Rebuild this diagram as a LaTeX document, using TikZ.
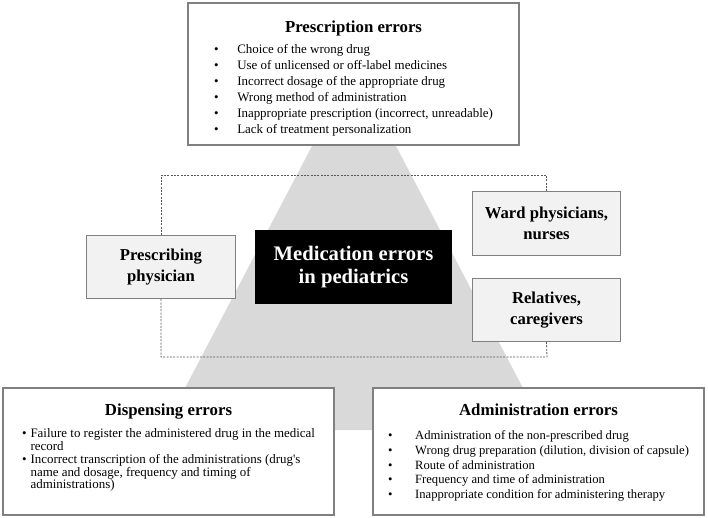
\documentclass[tikz,border=0pt]{standalone}
\usepackage{fontspec}
\setmainfont{Liberation Serif}
\usetikzlibrary{positioning,calc}
\definecolor{pyramidgray}{HTML}{D9D9D9}
\definecolor{rolefill}{HTML}{F2F2F2}
\definecolor{boxline}{HTML}{808080}
\definecolor{loopgray}{HTML}{595959}

\begin{document}
\begin{tikzpicture}[x=0.75pt, y=-0.75pt,
  errbox/.style={draw=boxline, line width=0.8pt, fill=white, minimum width=248.25pt, minimum height=95.25pt, inner sep=0pt},
  errtitle/.style={anchor=base, inner sep=0pt, font=\fontsize{12.6}{15}\selectfont\bfseries},
  errlist/.style={anchor=north, inner sep=0pt, align=left},
  rolebox/.style={draw=boxline, line width=0.8pt, fill=rolefill, minimum width=111.5pt, minimum height=47.5pt, align=center, font=\fontsize{12.5}{15.5}\selectfont\bfseries},
  loopline/.style={draw=loopgray, line width=0.6pt, dash pattern=on 1.5pt off 1pt}]

\useasboundingbox (0,0) rectangle (708,518);

% pyramid behind everything
\fill[pyramidgray] (354,66) -- (545,430) -- (163,430) -- cycle;

% prescription errors (top)
\node[errbox, minimum height=106.5pt] (presc) at (353.5,74) {};
\node[errtitle] (prescT) at ([yshift=-22.3pt]presc.north) {Prescription errors};
\node[errlist] (prescL) at ([yshift=-30pt]presc.north) {\fontsize{9.7}{12}\selectfont
  \begin{tabular}{@{}l@{\hspace{14pt}}l@{}}
  \textbullet & Choice of the wrong drug\\
  \textbullet & Use of unlicensed or off-label medicines\\
  \textbullet & Incorrect dosage of the appropriate drug\\
  \textbullet & Wrong method of administration\\
  \textbullet & Inappropriate prescription (incorrect, unreadable)\\
  \textbullet & Lack of treatment personalization
  \end{tabular}};

% who is involved
\node[rolebox] (prescriber) at (161,267) {Prescribing\\physician};
\node[rolebox] (ward) at (546.5,223.5) {Ward physicians,\\nurses};
\node[rolebox] (relatives) at (546.5,310) {Relatives,\\caregivers};
\coordinate (looptop) at (161,175);
\coordinate (loopbot) at (547,357);
\draw[loopline] (ward.north) |- (looptop) -- (prescriber.north);
\draw[loopline] (prescriber.south) |- (loopbot) -- (relatives.south);

\node[fill=black, text=white, minimum width=147.75pt, minimum height=55.5pt, align=center, font=\fontsize{15.5}{17.5}\selectfont\bfseries] (core) at (353.5,267) {Medication errors\\in pediatrics};

% dispensing errors (bottom left)
\node[errbox] (disp) at (168.5,451.5) {};
\node[errtitle] (dispT) at ([yshift=-20.8pt]disp.north) {Dispensing errors};
\node[errlist] (dispL) at ([yshift=-30.8pt]disp.north) {\fontsize{9.7}{9.4}\selectfont
  \begin{tabular}{@{}l@{\hspace{3pt}}l@{}}
  \textbullet & Failure to register the administered drug in the medical\\
   & record\\
  \textbullet & Incorrect transcription of the administrations (drug\textquotesingle s\\
   & name and dosage, frequency and timing of\\
   & administrations)
  \end{tabular}};

% administration errors (bottom right)
\node[errbox] (admin) at (538.5,451.5) {};
\node[errtitle] (adminT) at ([yshift=-20.8pt]admin.north) {Administration errors};
\node[errlist] (adminL) at ([yshift=-31.3pt]admin.north) {\fontsize{9.46}{11}\selectfont
  \begin{tabular}{@{}l@{\hspace{17pt}}l@{}}
  \textbullet & Administration of the non-prescribed drug\\
  \textbullet & Wrong drug preparation (dilution, division of capsule)\\
  \textbullet & Route of administration\\
  \textbullet & Frequency and time of administration\\
  \textbullet & Inappropriate condition for administering therapy
  \end{tabular}};
\end{tikzpicture}
\end{document}
